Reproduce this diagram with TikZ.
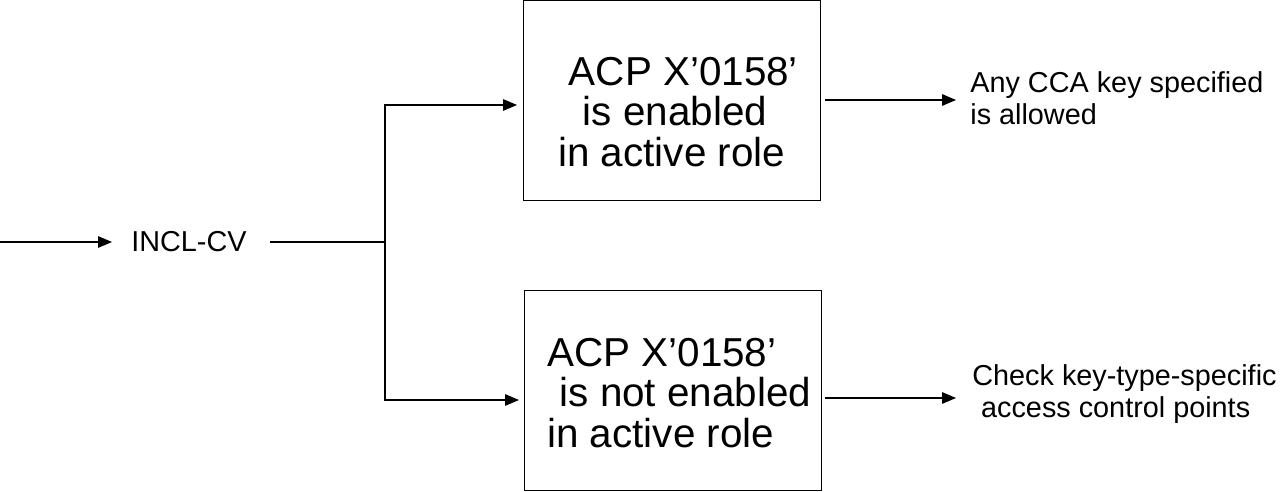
\documentclass[tikz,border=0pt]{standalone}
\usepackage{fontspec}
\setmainfont{Liberation Sans}
\usetikzlibrary{positioning,arrows}
\begin{document}
\begin{tikzpicture}[x=0.02cm,y=-0.02cm]
\tikzstyle{box}=[draw, minimum width=5.94cm, minimum height=4cm, inner sep=0pt]
\tikzstyle{big}=[font=\fontsize{23}{23}\selectfont, align=left, anchor=west, inner sep=0pt]
\tikzstyle{sml}=[font=\fontsize{16.4}{18.2}\selectfont, align=left, anchor=west, inner sep=0pt]
\tikzstyle{arr}=[-triangle 45, line width=0.8pt]
\useasboundingbox (0,0) rectangle (1280,492);

\node[box] (T) at (671.5,100) {};
\node[box] (B) at (672.5,390) {};
\node[big] (Tt) at (558,112) {\hspace{6pt}ACP X'0158'\\\hspace{14pt}is enabled\\in active role};
\node[big] (Bt) at (547,393) {ACP X'0158'\\\hspace{7pt}is not enabled\\in active role};
\node[sml] (I) at (131,242) {INCL-CV};
\node[sml] (R1) at (970,98) {Any CCA key specified\\is allowed};
\node[sml] (R2) at (972,394) {Check key-type-specific\\\hspace{5pt}access control points};

\coordinate (s) at (0,242);
\coordinate (i) at (270,242);
\coordinate (j) at (385,242);
\coordinate (ju) at (385,105);
\coordinate (jd) at (385,400);
\coordinate (tu) at (517,105);
\coordinate (td) at (519,400);
\coordinate (o1) at (825,100);
\coordinate (e1) at (956,100);
\coordinate (o2) at (825,398);
\coordinate (e2) at (956,398);

\draw[arr] (s) -- (112,242);
\draw[line width=0.8pt] (i) -- (j);
\draw[arr] (j) -- (ju) -- (tu);
\draw[arr] (j) -- (jd) -- (td);
\draw[arr] (o1) -- (e1);
\draw[arr] (o2) -- (e2);
\end{tikzpicture}
\end{document}
